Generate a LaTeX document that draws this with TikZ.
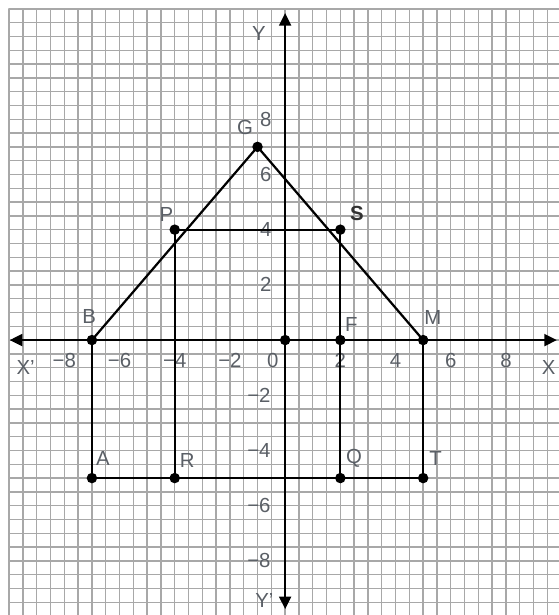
\documentclass[tikz,border=0pt]{standalone}
\usepackage{fontspec}
\setmainfont{Liberation Sans}
\usetikzlibrary{arrows.meta}
\definecolor{gridgray}{HTML}{A8A8A8}
\definecolor{labgray}{HTML}{5A5F66}
\tikzset{
    lab/.style={
        font=\fontsize{21}{24}\selectfont, text=labgray, inner sep=0pt
    },
    pt/.style={fill=black},
    axis/.style={line width=2.8pt, -{Triangle[length=13pt,width=12pt]}},
    side/.style={line width=2.3pt}
}

\begin{document}
\begin{tikzpicture}[x=1cm,y=1cm, line cap=round, line join=round]

\useasboundingbox (-10.33,-9.96) rectangle (9.89,12.32);

% graph paper
\draw[gridgray, line width=1.5pt] (-10,-10) grid[step=0.5] (10,12);

% axes
\coordinate (xl) at (-9.98,0);
\coordinate (xr) at (9.85,0);
\coordinate (yt) at (0,11.85);
\coordinate (yb) at (0,-9.75);
\draw[axis] (0,0) -- (xl);
\draw[axis] (0,0) -- (xr);
\draw[axis] (0,0) -- (yt);
\draw[axis] (0,0) -- (yb);

\foreach \x in {-8,-6,-4,-2,2,4,6,8} {
  \pgfmathtruncatemacro{\ax}{abs(\x)}
  \ifnum\x<0
    \node[lab] at (\x,-0.75) {−\ax};
  \else
    \node[lab] at (\x,-0.75) {\x};
  \fi
}
\foreach \y in {-8,-6,-4,-2,2,4,6,8} {
  \pgfmathtruncatemacro{\ay}{abs(\y)}
  \ifnum\y<0
    \node[lab] at (-0.95,\y) {−\ay};
  \else
    \node[lab] at (-0.7,\y) {\y};
  \fi
}
\node[lab] (o) at (-0.45,-0.75) {0};

\node[lab] (xname) at (-9.4,-1.0) {X'};
\node[lab] (xname2) at (9.55,-1.0) {X};
\node[lab] (yname) at (-0.95,11.1) {Y};
\node[lab] (yname2) at (-0.75,-9.45) {Y'};

% the points
\coordinate (G) at (-1,7);
\coordinate (P) at (-4,4);
\coordinate (S) at (2,4);
\coordinate (B) at (-7,0);
\coordinate (O) at (0,0);
\coordinate (F) at (2,0);
\coordinate (M) at (5,0);
\coordinate (A) at (-7,-5);
\coordinate (R) at (-4,-5);
\coordinate (Q) at (2,-5);
\coordinate (T) at (5,-5);

% roof and walls
\draw[side] (B) -- (G) -- (M);
\draw[side] (P) -- (S);
\draw[side] (B) -- (A) -- (T) -- (M);
\draw[side] (P) -- (R);
\draw[side] (S) -- (Q);

\foreach \p in {G,P,S,B,O,F,M,A,R,Q,T} {
  \fill[pt] (\p) circle (0.19);
}

\node[lab] at (-1.45,7.7) {G};
\node[lab] at (-4.3,4.55) {P};
\node[lab, text=black!80, font=\fontsize{21}{24}\selectfont\bfseries] at (2.6,4.6) {S};
\node[lab] at (-7.1,0.85) {B};
\node[lab] at (5.35,0.8) {M};
\node[lab] at (2.4,0.55) {F};
\node[lab] at (-6.6,-4.3) {A};
\node[lab] at (-3.55,-4.35) {R};
\node[lab] at (2.5,-4.3) {Q};
\node[lab] at (5.45,-4.3) {T};

\end{tikzpicture}
\end{document}
